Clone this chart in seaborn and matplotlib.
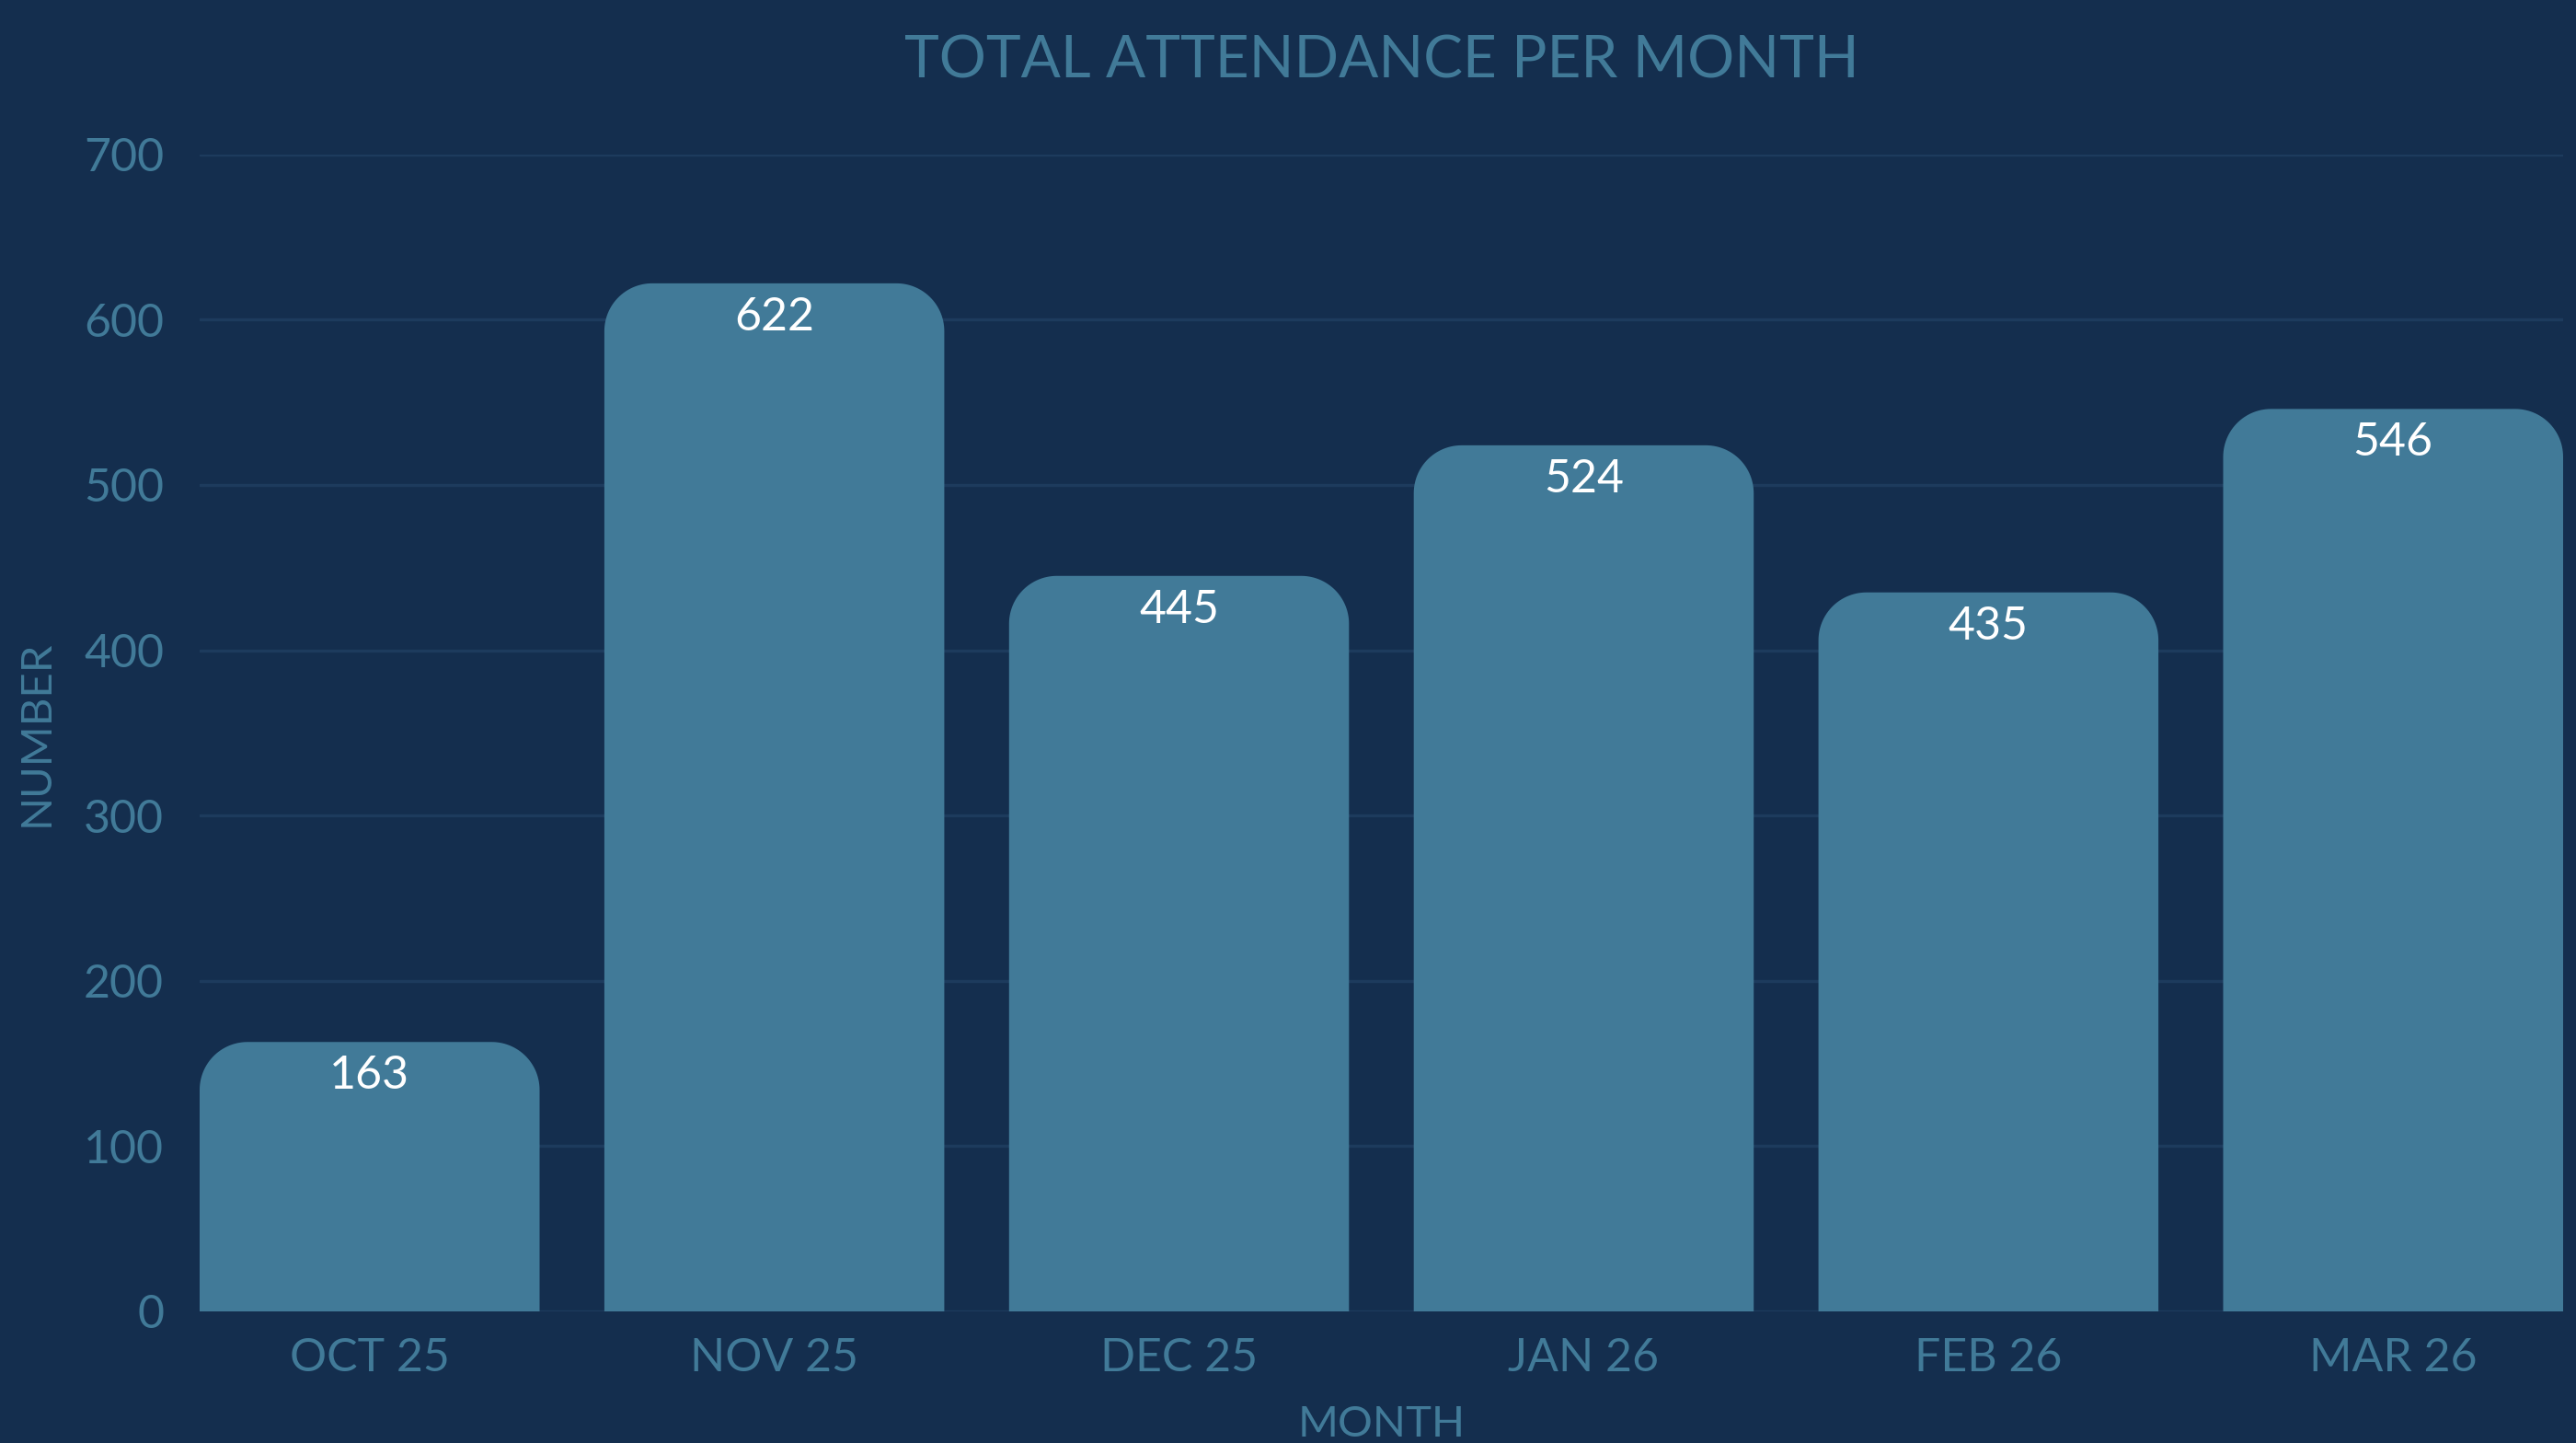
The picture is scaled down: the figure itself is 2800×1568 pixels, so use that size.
import numpy as np
import pandas as pd
import seaborn as sns
import matplotlib.pyplot as plt
from matplotlib.path import Path
from matplotlib.patches import PathPatch

months = ['OCT 25', 'NOV 25', 'DEC 25', 'JAN 26', 'FEB 26', 'MAR 26']
attendance = [163, 622, 445, 524, 435, 546]
yticks = [0, 100, 200, 300, 400, 500, 600, 700]

bg = '#142e4e'
bar_color = '#417a98'
text_color = '#417a98'
grid_color = '#1d3b5d'


def round_top(ax, patch, radius_px=52):
    # swap a plain bar for one with rounded top corners
    x, y = patch.get_x(), patch.get_y()
    w, h = patch.get_width(), patch.get_height()
    p0 = ax.transData.transform((0, 0))
    p1 = ax.transData.transform((1, 1))
    rx = radius_px / abs(p1[0] - p0[0])
    ry = radius_px / abs(p1[1] - p0[1])
    rx = min(rx, w / 2)
    ry = min(ry, h)
    t = np.linspace(0, np.pi / 2, 30)
    right = np.column_stack([x + w - rx + rx * np.cos(t), y + h - ry + ry * np.sin(t)])
    left = np.column_stack([x + rx - rx * np.sin(t), y + h - ry + ry * np.cos(t)])
    pts = np.vstack([[x, y], [x + w, y], right, left, [x, y]])
    codes = [Path.MOVETO] + [Path.LINETO] * (len(pts) - 2) + [Path.CLOSEPOLY]
    ax.add_patch(PathPatch(Path(pts, codes), facecolor=bar_color, edgecolor='none', zorder=2))
    patch.remove()


df = pd.DataFrame({'month': months, 'count': attendance})

sns.set_theme(style="darkgrid")
plt.rcParams['font.family'] = ['Lato', 'DejaVu Sans']

fig, ax = plt.subplots(figsize=(14, 7.84), dpi=200)
fig.patch.set_facecolor(bg)
ax.set_facecolor(bg)
fig.subplots_adjust(left=0.0775, right=0.995, top=0.893, bottom=0.0912)

sns.barplot(data=df, x='month', y='count', color=bar_color, width=0.84,
            saturation=1, ax=ax, zorder=2)
ax.set_xlim(-0.42, len(months) - 0.58)
ax.set_ylim(0, 700)
ax.set_yticks(yticks)

for p in list(ax.patches):
    round_top(ax, p)

for i, v in enumerate(attendance):
    ax.annotate(str(v), (i, v), xytext=(0, -5), textcoords='offset points',
                ha='center', va='top', color='white', fontsize=18)

ax.grid(axis='y', color=grid_color, linewidth=1.2)
ax.grid(axis='x', visible=False)
for s in ax.spines.values():
    s.set_visible(False)
ax.tick_params(axis='both', colors=text_color, labelsize=18, length=0)
ax.tick_params(axis='y', pad=14)
ax.tick_params(axis='x', pad=10)

ax.set_xlabel('MONTH', color=text_color, fontsize=17, labelpad=10)
ax.set_ylabel('NUMBER', color=text_color, fontsize=17, labelpad=10)
ax.yaxis.set_label_coords(-0.061, 0.5)
ax.set_title('TOTAL ATTENDANCE PER MONTH', color=text_color, fontsize=23,
             fontweight='normal', pad=30)

fig.savefig('out.png', facecolor=bg)
